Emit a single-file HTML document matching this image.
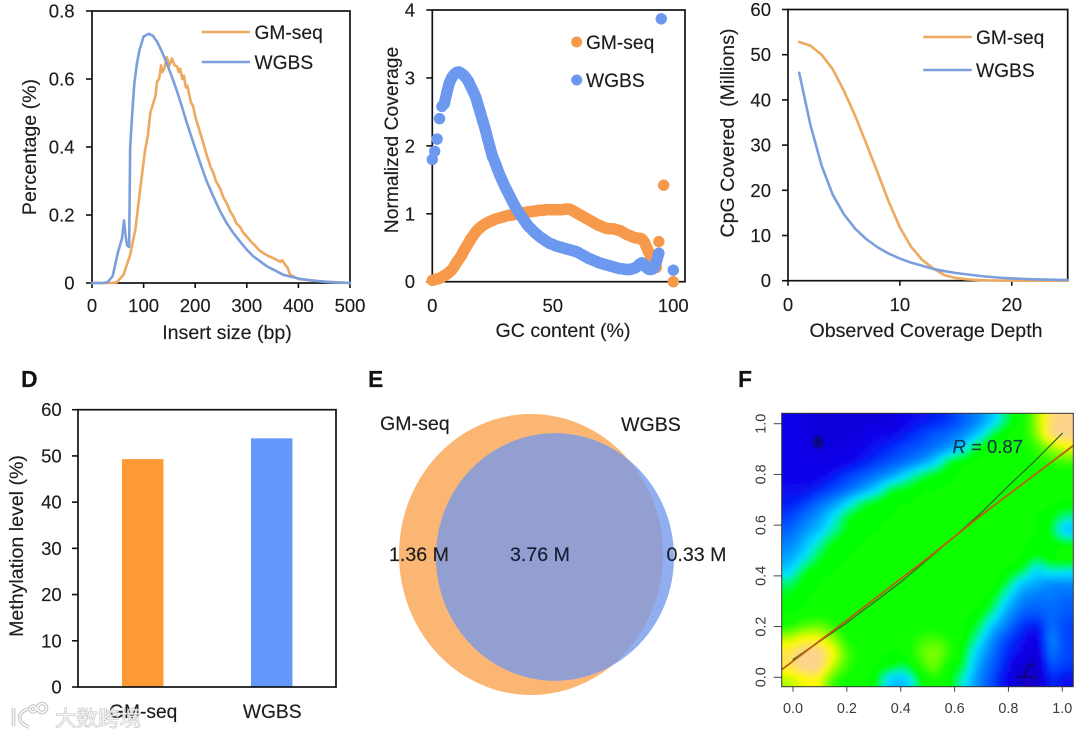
<!DOCTYPE html>
<html lang="en">
<head>
<meta charset="utf-8">
<title>GM-seq vs WGBS figure</title>
<style>
html,body{margin:0;padding:0;background:#fff;width:1080px;height:737px;overflow:hidden}
svg{display:block;filter:blur(0.35px)}
text{font-family:"Liberation Sans","Noto Sans CJK SC",sans-serif;fill:#1c1c1c;stroke:#1c1c1c;stroke-width:0.15px}
.tick{font-size:18.5px}
.title{font-size:19.6px}
.legend{font-size:19.2px}
.letter{font-size:23px;font-weight:bold;fill:#111}
.rtick{font-size:14.4px;fill:#3c3c3c;stroke:none}
</style>
</head>
<body>
<svg id="fig" xmlns="http://www.w3.org/2000/svg" width="1080" height="737" viewBox="0 0 1080 737">
  <defs>
    <filter id="heat-blur" filterUnits="userSpaceOnUse" x="740" y="380" width="380" height="340"><feGaussianBlur stdDeviation="2"/></filter>
    <filter id="soft" x="-30%" y="-30%" width="160%" height="160%"><feGaussianBlur stdDeviation="1.2"/></filter>
    <clipPath id="heat-clip"><rect x="781.7" y="413.3" width="291.6" height="273.4"/></clipPath>
    <clipPath id="venn-clip"><ellipse cx="531" cy="554.5" rx="132" ry="140.5"/></clipPath>
  </defs>

  <g id="panel-a">
    <text class="title" x="227" y="339" text-anchor="middle">Insert size (bp)</text>
    <text class="title" transform="translate(36,147) rotate(-90)" text-anchor="middle">Percentage (%)</text>
    <g><line x1="201.7" x2="250" y1="32" y2="32" stroke="#EDA95F" stroke-width="2.6"/><text class="legend" x="254.5" y="39">GM-seq</text></g>
    <g><line x1="201.7" x2="250" y1="62" y2="62" stroke="#7C9FDC" stroke-width="2.6"/><text class="legend" x="254.5" y="69">WGBS</text></g>
  </g>

  <g id="panel-b">
    <text class="title" x="563" y="337" text-anchor="middle">GC content (%)</text>
    <text class="title" style="font-size:19.3px" transform="translate(398,140) rotate(-90)" text-anchor="middle">Normalized Coverage</text>
    <g><circle cx="576.7" cy="42" r="5.5" fill="#F7994A"/><text class="legend" x="586" y="49">GM-seq</text></g>
    <g><circle cx="576.7" cy="80" r="5.5" fill="#6C98F0"/><text class="legend" x="586" y="87">WGBS</text></g>
  </g>

  <g id="panel-c">
    <text class="title" x="926" y="337" text-anchor="middle">Observed Coverage Depth</text>
    <text class="title" transform="translate(734,133) rotate(-90)" text-anchor="middle" xml:space="preserve">CpG Covered  (Millions)</text>
    <g><line x1="923.3" x2="971.7" y1="37" y2="37" stroke="#EDA95F" stroke-width="2.6"/><text class="legend" x="976" y="44">GM-seq</text></g>
    <g><line x1="923.3" x2="971.7" y1="70" y2="70" stroke="#7C9FDC" stroke-width="2.6"/><text class="legend" x="976" y="77">WGBS</text></g>
  </g>

  <g id="panel-d">
    <text class="letter" x="21" y="387">D</text>
    <text class="title" transform="translate(23,546) rotate(-90)" text-anchor="middle">Methylation level (%)</text>
  </g>

  <g id="panel-e">
    <text class="letter" x="368" y="387">E</text>
    <ellipse cx="531" cy="554.5" rx="132" ry="140.5" fill="#FBB673"/>
    <ellipse cx="555" cy="557" rx="119" ry="123.7" fill="#90AEF0"/>
    <ellipse cx="555" cy="557" rx="119" ry="123.7" fill="#929FD0" clip-path="url(#venn-clip)"/>
    <text class="title" x="380" y="430">GM-seq</text>
    <text class="title" x="621" y="431">WGBS</text>
    <text class="title" x="389" y="561">1.36 M</text>
    <text class="title" x="510" y="561" style="fill:#15193a">3.76 M</text>
    <text class="title" x="666.5" y="561">0.33 M</text>
  </g>

  <g id="panel-f">
    <text class="letter" x="738" y="387">F</text>
    <g clip-path="url(#heat-clip)">
      <g id="heat-cells" filter="url(#heat-blur)"></g>
      <g id="heat-lines"></g>
      <ellipse cx="818" cy="442" rx="5.5" ry="6.5" fill="#10104a" opacity="0.6" filter="url(#soft)"/>
      <path d="M1016 677H1036M1024 676L1028 666L1034 664" fill="none" stroke="#0a1030" stroke-width="1.1" opacity="0.8"/>
    </g>
    <rect x="781.7" y="413.3" width="291.6" height="273.4" fill="none" stroke="#333" stroke-width="1"/>
    <text x="952.5" y="453" style="font-size:18.5px;fill:#12364a;stroke:#12364a"><tspan font-style="italic">R</tspan> = 0.87</text>
  </g>

  <g id="watermark" opacity="0.92">
    <g fill="none" stroke="#b9b9b9" stroke-width="3.6">
      <path d="M13.5 708V726"/><path d="M29 709C18 711 15 722 29 727"/>
      <circle cx="33" cy="709" r="3"/><circle cx="42" cy="708" r="4.5"/>
    </g>
    <g fill="none" stroke="#f6f6f6" stroke-width="1.8">
      <path d="M13.5 708V726"/><path d="M29 709C18 711 15 722 29 727"/>
      <circle cx="33" cy="709" r="3"/><circle cx="42" cy="708" r="4.5"/>
    </g>
    <text x="55" y="726" style="font-size:21.5px;font-family:'Noto Sans CJK SC',sans-serif;fill:#f2f2f2;stroke:#a9a9a9;stroke-width:0.8;paint-order:stroke">大数跨境</text>
  </g>
</svg>

<script>
// ---- Panel A: insert size distribution ----
const insertXTicks = ['0', '100', '200', '300', '400', '500'];
const insertYTicks = ['0', '0.2', '0.4', '0.6', '0.8'];
const gmInsertX = [0,35,48,61,74,84,94,103,108,113,119,123,126,130,134,136,140,145,150,155,160,165,168,171,175,178,182,185,189,192,196,200,204,208,212,217,222,226,230,235,240,248,255,261,268,274,280,287,293,300,308,315,323,332,341,350,358,365,369,374,379,384,400,425,450,475,500];
const gmInsertY = [0,0,0.002,0.024,0.083,0.157,0.284,0.392,0.43,0.5,0.53,0.55,0.592,0.6,0.64,0.62,0.63,0.664,0.64,0.66,0.64,0.637,0.62,0.63,0.6,0.61,0.575,0.58,0.55,0.53,0.52,0.49,0.47,0.45,0.43,0.405,0.377,0.36,0.34,0.325,0.3,0.279,0.25,0.235,0.21,0.196,0.175,0.165,0.148,0.137,0.122,0.112,0.098,0.088,0.08,0.074,0.068,0.062,0.067,0.054,0.045,0.024,0.012,0.007,0.004,0.002,0];
const wgbsInsertX = [0,20,30,40,50,55,58,62,65,68,72,74,78,82,87,92,100,110,118,126,135,145,155,165,175,184,197,210,222,235,248,261,274,287,300,313,339,371,403,435,468,500];
const wgbsInsertY = [0,0,0.002,0.02,0.088,0.115,0.13,0.184,0.14,0.11,0.106,0.4,0.5,0.587,0.645,0.685,0.725,0.733,0.727,0.71,0.682,0.646,0.606,0.563,0.515,0.47,0.41,0.352,0.3,0.255,0.212,0.176,0.147,0.122,0.098,0.078,0.049,0.024,0.012,0.006,0.002,0];

// ---- Panel B: GC-content coverage (index = GC %, null = no point) ----
const gcXTicks = ['0', '50', '100'];
const gcYTicks = ['0', '1', '2', '3', '4'];
const gmCoverage = [0.02,0.03,0.04,0.05,0.07,0.09,0.11,0.14,0.17,0.22,0.28,0.33,0.38,0.45,0.51,0.57,0.63,0.68,0.73,0.77,0.8,0.83,0.85,0.87,0.89,0.9,0.92,0.93,0.94,0.95,0.96,0.97,0.98,0.98,0.99,1.0,1.0,1.01,1.02,1.02,1.03,1.03,1.04,1.04,1.05,1.05,1.05,1.06,1.06,1.06,1.06,1.06,1.06,1.06,1.06,1.07,1.07,1.07,1.05,1.03,1.01,0.99,0.97,0.95,0.93,0.91,0.89,0.87,0.85,0.83,0.82,0.8,0.79,0.78,0.78,0.78,0.77,0.76,0.75,0.73,0.71,0.69,0.68,0.66,0.65,0.64,0.64,0.63,0.58,0.5,0.42,0.36,0.3,0.21,0.59,null,1.42,null,null,null,0];
const wgbsCoverage = [1.8,1.92,2.1,2.4,2.58,2.62,2.78,2.92,3.0,3.05,3.08,3.09,3.07,3.04,3.0,2.95,2.87,2.8,2.72,2.6,2.48,2.36,2.24,2.1,1.97,1.84,1.76,1.66,1.57,1.49,1.41,1.34,1.27,1.2,1.13,1.07,1.01,0.96,0.91,0.86,0.81,0.78,0.74,0.71,0.68,0.65,0.63,0.6,0.58,0.56,0.55,0.53,0.52,0.51,0.5,0.49,0.48,0.47,0.46,0.45,0.44,0.42,0.4,0.38,0.36,0.34,0.33,0.31,0.3,0.28,0.27,0.26,0.25,0.24,0.23,0.22,0.21,0.2,0.19,0.19,0.18,0.18,0.18,0.19,0.2,0.22,0.26,0.28,0.25,0.2,0.18,0.18,0.2,0.3,0.42,3.87,null,null,null,null,0.17];

// ---- Panel C: CpG coverage vs depth ----
const depthXTicks = ['0', '10', '20'];
const depthYTicks = ['0', '10', '20', '30', '40', '50', '60'];
const depthValues = [1,2,3,4,5,6,7,8,9,10,11,12,13,14,15,16,17,18,19,20,21,22,23,24,25];
const gmCpg = [52.8,52,50,46.8,42,36.5,30.3,24,17.5,11.8,7.5,4.6,2.7,1.2,0.6,0.3,0.15,0.05,0.02,0,0,0,0,0,0];
const wgbsCpg = [46,34.5,25.5,19,14.7,11.5,9.2,7.4,6,4.9,4,3.3,2.6,2.1,1.7,1.4,1.1,0.85,0.65,0.5,0.4,0.3,0.25,0.2,0.15];

// ---- Panel D: methylation level ----
const methCategories = ['GM-seq', 'WGBS'];
const methValues = [49.3, 53.8];
const methYTicks = ['0', '10', '20', '30', '40', '50', '60'];

// ---- Panel F: density grid (rows top to bottom, level 0 to 9) ----
const densityTicks = ['0.0', '0.2', '0.4', '0.6', '0.8', '1.0'];
const densityGrid = [
  [1,0.8,0.7,0.7,0.7,0.7,0.7,0.7,1,1.3,1.5,1.8,2.4,3,3.8,4.8,5.6,7.2,8.7,9],
  [1,0.8,0.7,0.7,0.7,0.8,1,1.1,1.4,1.8,2.2,2.5,3,3.8,4.8,5.3,5.8,7,8.7,9],
  [1,0.8,0.8,0.8,0.9,1,1.3,1.6,2,2.3,2.7,3.2,4,5,5.3,5.5,5.8,6.3,7.2,7.8],
  [1,1,0.9,0.9,1,1.4,1.8,2.2,2.6,3.1,3.8,4.8,5.2,5.4,5.5,5.5,5.7,6,6.3,6.5],
  [1,1,1,1.3,1.8,2.2,2.7,3.2,3.9,4.6,5,5.2,5.4,5.5,5.5,5.5,5.5,5.5,5.5,5.5],
  [1.2,1.2,1.5,2,2.5,3.1,3.8,4.7,5,5.2,5.3,5.4,5.5,5.5,5.5,5.5,5.5,5.5,5.5,5.5],
  [1.4,1.8,2.4,3,3.8,4.6,5,5.2,5.3,5.4,5.5,5.5,5.5,5.5,5.5,5.5,5.5,5.5,5.4,5.2],
  [1.9,2.5,3.1,3.9,4.8,5.1,5.2,5.3,5.5,5.5,5.5,5.5,5.5,5.5,5.5,5.5,5.5,5.3,5.1,4.6],
  [2.4,3,3.6,4.4,5,5.2,5.3,5.5,5.5,5.5,5.5,5.5,5.5,5.5,5.5,5.5,5.5,5.3,4.9,3.8],
  [2.9,3.5,4.3,5,5.2,5.3,5.5,5.5,5.5,5.5,5.5,5.5,5.5,5.5,5.5,5.5,5.4,5.2,5.1,5],
  [3.3,4,4.8,5.2,5.3,5.5,5.5,5.5,5.5,5.5,5.5,5.5,5.5,5.5,5.5,5.5,5.3,4.9,5.2,5.5],
  [3.9,4.8,5.2,5.3,5.5,5.5,5.5,5.5,5.5,5.5,5.5,5.5,5.5,5.5,5.5,5.2,4.8,4,4.3,4.2],
  [4.7,5.1,5.3,5.5,5.5,5.5,5.5,5.5,5.5,5.5,5.5,5.5,5.5,5.5,5.4,4.7,3.7,3.3,3,3],
  [5,5.2,5.5,5.5,5.5,5.5,5.5,5.5,5.5,5.5,5.5,5.5,5.5,5.4,5,4,3,2.7,2.7,2.5],
  [5.3,5.5,5.7,5.7,5.5,5.5,5.5,5.5,5.5,5.5,5.5,5.5,5.4,5.2,4.5,3.3,2.5,2.3,2.5,2.3],
  [6,6.5,6.7,6.2,5.7,5.5,5.5,5.5,5.5,5.7,5.7,5.5,5.3,4.8,3.7,2.7,1.8,1.5,2.5,2],
  [7.5,8,8,7.2,6,5.7,5.5,5.5,5.6,6.2,6.4,6,5.2,4.3,3,2,1.3,1,2.7,2],
  [8.5,9,9,8,6.5,5.8,5.5,5.3,5.5,6.5,6.9,6.2,5,3.7,2.6,1.6,1,0.7,2.5,2],
  [8.5,9,9,7.5,6.3,5.7,5.3,5,4.8,6,6.7,5.5,4.7,3.3,2.3,1.3,0.5,0.5,2,1.8],
  [7.5,8,8,6.5,5.8,5.5,5,3.8,3.8,5,6,5.2,4.2,3,2,1,0.3,0.3,1.5,1.2]
];
const curveFitX = [0,0.2,0.4,0.6,0.7,0.8,0.9,1];
const curveFitY = [0.07,0.215,0.375,0.555,0.65,0.755,0.855,0.962];
const linearFitX = [-0.042,0.2,0.5,0.7,1.04];
const linearFitY = [0.03,0.225,0.47,0.64,0.913];

const NS = 'http://www.w3.org/2000/svg';
function make(tag, attrs, parent) {
  const el = document.createElementNS(NS, tag);
  for (const k in attrs) el.setAttribute(k, attrs[k]);
  parent.appendChild(el);
  return el;
}
function scale(d0, d1, r0, r1) {
  return function (v) { return r0 + (v - d0) / (d1 - d0) * (r1 - r0); };
}
function drawFrame(parent, box) {
  const el = make('rect', {x: box.l, y: box.t, width: box.r - box.l, height: box.b - box.t, fill: 'none', stroke: '#111', 'stroke-width': 1.7}, parent);
  
  
}
function drawXTicks(parent, labels, sx, box, labelY, tickLen) {
  labels.forEach(function (lab) {
    const x = sx(parseFloat(lab));
    const t = make('line', {x1: x, x2: x, y1: box.b, y2: box.b + tickLen, stroke: '#111', 'stroke-width': 1.6}, parent);
    
    
    const s = make('text', {x: x, y: labelY, 'text-anchor': 'middle', 'class': 'tick'}, parent);
    s.textContent = lab;
    
    
  });
}
function drawYTicks(parent, labels, sy, box, labelX, tickLen) {
  labels.forEach(function (lab) {
    const y = sy(parseFloat(lab));
    const t = make('line', {x1: box.l - tickLen, x2: box.l, y1: y, y2: y, stroke: '#111', 'stroke-width': 1.6}, parent);
    
    
    const s = make('text', {x: labelX, y: y + 6.5, 'text-anchor': 'end', 'class': 'tick'}, parent);
    s.textContent = lab;
    
    
  });
}
function drawLine(parent, xs, ys, sx, sy, color, width) {
  const pts = xs.map(function (v, i) { return sx(v).toFixed(2) + ',' + sy(ys[i]).toFixed(2); }).join(' ');
  return make('polyline', {points: pts, fill: 'none', stroke: color, 'stroke-width': width, 'stroke-linejoin': 'round', 'stroke-linecap': 'round'}, parent);
}

// Panel A
(function () {
  const g = document.getElementById('panel-a');
  const box = {l: 92, r: 350, t: 11, b: 283};
  const sx = scale(0, 500, box.l, box.r);
  const sy = scale(0, 0.8, box.b, box.t);
  drawFrame(g, box);
  drawXTicks(g, insertXTicks, sx, box, 312, 5);
  drawYTicks(g, insertYTicks, sy, box, 74.5, 6);
  const a = drawLine(g, gmInsertX, gmInsertY, sx, sy, '#EDA95F', 2.6);
  
  
  const b = drawLine(g, wgbsInsertX, wgbsInsertY, sx, sy, '#7C9FDC', 2.6);
  
  
})();

// Panel B
(function () {
  const g = document.getElementById('panel-b');
  const box = {l: 432.3, r: 685, t: 10, b: 281.7};
  const sx = scale(0, 100, 432.3, 673.3);
  const sy = scale(0, 4, box.b, box.t);
  const radius = 5.7;
  drawFrame(g, box);
  drawXTicks(g, gcXTicks, sx, box, 312, 0);
  drawYTicks(g, gcYTicks, sy, box, 415, 6);
  gmCoverage.forEach(function (v, i) {
    if (v === null) return;
    const prev = gmCoverage[i - 1];
    if (prev !== undefined && prev !== null && Math.abs(v - prev) < 0.2) {
      const s = make('line', {x1: sx(i - 1), y1: sy(prev), x2: sx(i), y2: sy(v), stroke: '#F7994A', 'stroke-width': radius * 2}, g);
      
      
    }
    const c = make('circle', {cx: sx(i), cy: sy(v), r: radius, fill: '#F7994A'}, g);
    
    
  });
  wgbsCoverage.forEach(function (v, i) {
    if (v === null) return;
    const prev = wgbsCoverage[i - 1];
    if (i > 5 && prev !== undefined && prev !== null && Math.abs(v - prev) < 0.2) {
      const s = make('line', {x1: sx(i - 1), y1: sy(prev), x2: sx(i), y2: sy(v), stroke: '#6C98F0', 'stroke-width': radius * 2}, g);
      
      
    }
    const c = make('circle', {cx: sx(i), cy: sy(v), r: radius, fill: '#6C98F0'}, g);
    
    
  });
})();

// Panel C
(function () {
  const g = document.getElementById('panel-c');
  const box = {l: 788, r: 1067.7, t: 9.5, b: 280.7};
  const sx = scale(0, 25, box.l, box.r);
  const sy = scale(0, 60, box.b, box.t);
  drawFrame(g, box);
  drawXTicks(g, depthXTicks, sx, box, 311, 5);
  drawYTicks(g, depthYTicks, sy, box, 771, 6);
  const a = drawLine(g, depthValues, gmCpg, sx, sy, '#EDA95F', 2.6);
  
  
  const b = drawLine(g, depthValues, wgbsCpg, sx, sy, '#7C9FDC', 2.6);
  
  
})();

// Panel D
(function () {
  const g = document.getElementById('panel-d');
  const box = {l: 78, r: 336, t: 409.7, b: 687};
  const sy = scale(0, 60, box.b, box.t);
  const band = (box.r - box.l) / methCategories.length;
  const barWidth = 41.5;
  const colors = ['#FD9A33', '#6498FB'];
  methCategories.forEach(function (name, i) {
    const cx = box.l + band * (i + 0.5) + 0.2;
    const r = make('rect', {x: cx - barWidth / 2, y: sy(methValues[i]), width: barWidth, height: box.b - sy(methValues[i]), fill: colors[i]}, g);
    
    
    const s = make('text', {x: cx + 0.5, y: 718, 'text-anchor': 'middle', 'class': 'legend'}, g);
    s.textContent = name;
    
    
  });
  drawFrame(g, box);
  drawYTicks(g, methYTicks, sy, box, 61.7, 6);
})();

// Panel F
(function () {
  const g = document.getElementById('panel-f');
  const cells = document.getElementById('heat-cells');
  const lines = document.getElementById('heat-lines');
  const box = {l: 781.7, r: 1073.3, t: 413.3, b: 686.7};
  const rows = densityGrid.length;
  const cols = densityGrid[0].length;
  const cw = (box.r - box.l) / cols;
  const ch = (box.b - box.t) / rows;
  function levelColor(v) {
    const stops = [[0,20,0,190],[1,10,0,235],[2,0,70,255],[3,0,140,255],[4,0,225,255],[4.6,0,245,130],[5,0,255,0],[6,20,255,0],[7,130,255,0],[8,255,250,0],[9,252,212,140]];
    for (let i = 1; i < stops.length; i++) {
      if (v <= stops[i][0]) {
        const a = stops[i - 1], b = stops[i], t = (v - a[0]) / (b[0] - a[0]);
        return 'rgb(' + Math.round(a[1] + (b[1] - a[1]) * t) + ',' + Math.round(a[2] + (b[2] - a[2]) * t) + ',' + Math.round(a[3] + (b[3] - a[3]) * t) + ')';
      }
    }
    return 'rgb(252,212,140)';
  }
  function cr(p0, p1, p2, p3, t) {
    return 0.5 * (2 * p1 + (p2 - p0) * t + (2 * p0 - 5 * p1 + 4 * p2 - p3) * t * t + (3 * p1 - p0 - 3 * p2 + p3) * t * t * t);
  }
  function at(i, j) {
    return densityGrid[Math.max(0, Math.min(rows - 1, i))][Math.max(0, Math.min(cols - 1, j))];
  }
  function sample(u, w) {
    const j = Math.floor(u), i = Math.floor(w), fu = u - j, fw = w - i;
    const col = [];
    for (let k = -1; k <= 2; k++) {
      col.push(cr(at(i + k, j - 1), at(i + k, j), at(i + k, j + 1), at(i + k, j + 2), fu));
    }
    return Math.max(0, Math.min(9, cr(col[0], col[1], col[2], col[3], fw)));
  }
  const step = 4;
  const pad = 10;
  for (let y = box.t - pad; y < box.b + pad; y += step) {
    for (let x = box.l - pad; x < box.r + pad; x += step) {
      const u = (x + step / 2 - box.l) / cw - 0.5;
      const w = (y + step / 2 - box.t) / ch - 0.5;
      const r = make('rect', {x: x, y: y, width: step + 0.4, height: step + 0.4, fill: levelColor(sample(u, w)), 'shape-rendering': 'crispEdges'}, cells);
      
      
    }
  }
  const sx = scale(0, 1, 793, 1062.3);
  const sy = scale(0, 1, 677.3, 423.7);
  const curve = drawLine(lines, curveFitX, curveFitY, sx, sy, '#2f7020', 1.3);
  
  
  const lin = drawLine(lines, linearFitX, linearFitY, sx, sy, '#b8620f', 1.8);
  
  
  densityTicks.forEach(function (lab) {
    const v = parseFloat(lab);
    const tx = make('line', {x1: sx(v), x2: sx(v), y1: box.b, y2: box.b + 5, stroke: '#444', 'stroke-width': 1}, g);
    
    
    const lx = make('text', {x: sx(v), y: 713, 'text-anchor': 'middle', 'class': 'rtick'}, g);
    lx.textContent = lab;
    
    
    const ty = make('line', {x1: box.l - 8, x2: box.l, y1: sy(v), y2: sy(v), stroke: '#444', 'stroke-width': 1}, g);
    
    
    const ly = make('text', {transform: 'translate(765.5,' + sy(v) + ') rotate(-90)', 'text-anchor': 'middle', 'class': 'rtick'}, g);
    ly.textContent = lab;
    
    
  });
})();
</script>
</body>
</html>
